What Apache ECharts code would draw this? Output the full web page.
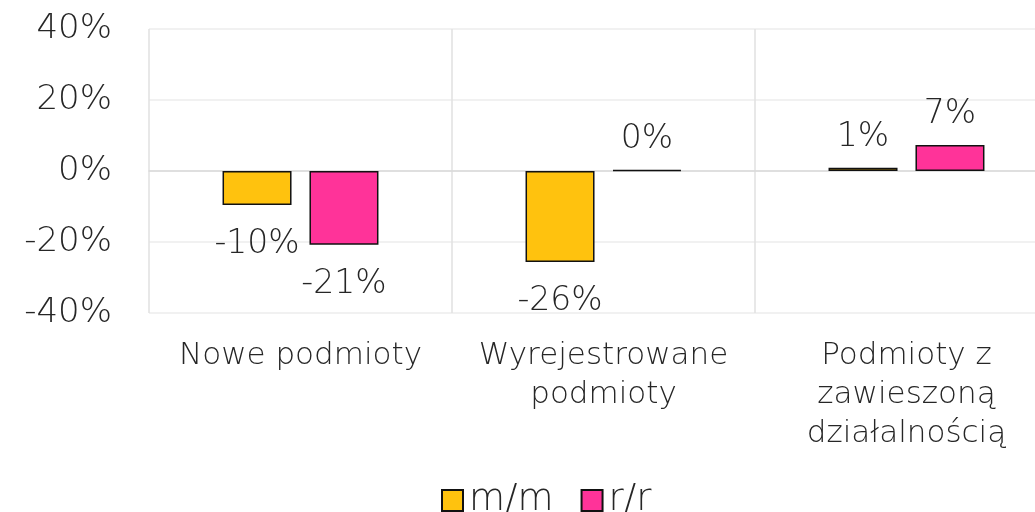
<!DOCTYPE html>
<html><head><meta charset="utf-8">
<script src="https://cdn.jsdelivr.net/npm/echarts@6/dist/echarts.min.js"></script>
<style>html,body{margin:0;padding:0;background:#fff}#c{width:1035px;height:512px}</style>
</head><body><div id="c"></div>
<script>
const categories = ['Nowe podmioty', 'Wyrejestrowane\npodmioty', 'Podmioty z\nzawieszoną\ndziałalnością'];
const seriesNames = ['m/m', 'r/r'];
const mm = [-9.6, -25.6, 0.9];
const rr = [-20.8, 0.3, 7.3];
const yTicks = [-40, -20, 0, 20, 40];
const colors = ['#FFC20E', '#FF3399'];

const FONT = '"DejaVu Sans", sans-serif';
const TXT = '#262626';

function mkData(arr) {
  return arr.map(v => ({ value: v, label: { position: v < 0 ? 'bottom' : 'top', distance: v < 0 ? 23 : 14 } }));
}
function mkSeries(name, arr, color) {
  return {
    name, type: 'bar', data: mkData(arr),
    barWidth: 69, barGap: '26%',
    itemStyle: { color, borderColor: '#111', borderWidth: 1.5 },
    label: { show: true, color: TXT, fontFamily: FONT, fontSize: 33, fontWeight: 200,
      formatter: p => Math.round(p.value) + '%' }
  };
}
const chart = echarts.init(document.getElementById('c'), null, { renderer: 'canvas' });
chart.setOption({
  animation: false,
  backgroundColor: '#fff',
  grid: { left: 149, top: 29, width: 909, height: 284, containLabel: false, outerBoundsMode: 'none' },
  legend: {
    top: 477, left: 436, itemWidth: 21, itemHeight: 21, itemGap: 27, icon: 'rect',
    textStyle: { color: TXT, fontFamily: FONT, fontSize: 37, fontWeight: 200, padding: [0, 0, 0, 1] },
    data: seriesNames
  },
  xAxis: {
    type: 'category', data: categories,
    axisLine: { onZero: true, lineStyle: { color: '#d9d9d9', width: 1.5 } },
    axisTick: { show: false },
    splitLine: { show: true, lineStyle: { color: '#e0e0e0', width: 1.5 } },
    axisLabel: { color: TXT, fontFamily: FONT, fontSize: 31, fontWeight: 200, lineHeight: 39, margin: 23, interval: 0,
      verticalAlign: 'top' }
  },
  yAxis: {
    type: 'value', min: -40, max: 40, interval: 20,
    axisLine: { show: false }, axisTick: { show: false },
    splitLine: { lineStyle: { color: '#ececec', width: 1.5 } },
    axisLabel: { color: TXT, fontFamily: FONT, fontSize: 34, fontWeight: 200, margin: 37,
      formatter: v => yTicks.includes(v) ? v + '%' : '' }
  },
  series: [mkSeries(seriesNames[0], mm, colors[0]), mkSeries(seriesNames[1], rr, colors[1])]
});
</script></body></html>
